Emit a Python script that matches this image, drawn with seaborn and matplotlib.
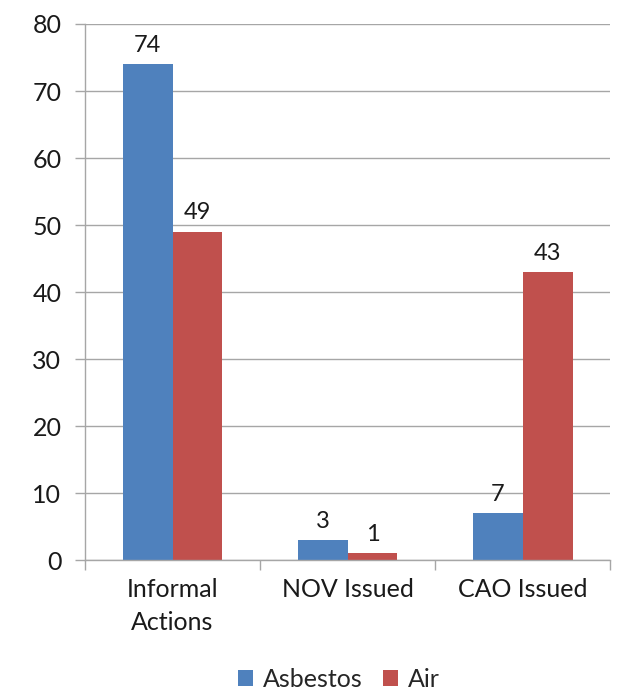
import matplotlib
matplotlib.use("Agg")
import matplotlib.pyplot as plt
import seaborn as sns
import pandas as pd
from matplotlib.patches import Patch

categories = ["Informal\nActions", "NOV Issued", "CAO Issued"]
series = ["Asbestos", "Air"]
asbestos = [74, 3, 7]
air = [49, 1, 43]
colors = ["#4F81BD", "#C0504D"]
y_ticks = [0, 10, 20, 30, 40, 50, 60, 70, 80]

df = pd.DataFrame({
    "category": categories * 2,
    "series": [series[0]] * 3 + [series[1]] * 3,
    "value": asbestos + air,
})

sns.set_theme(style="white")
plt.rcParams["font.family"] = ["Lato", "DejaVu Sans"]

fig = plt.figure(figsize=(6.22, 6.95), dpi=100)
ax = fig.add_axes([0.1367, 0.194, 0.8443, 0.7715])

sns.barplot(data=df, x="category", y="value", hue="series", order=categories,
            hue_order=series, palette=colors, width=0.57, gap=0,
            saturation=1, edgecolor="none", linewidth=0, ax=ax, legend=False)

for cont in ax.containers:
    ax.bar_label(cont, fmt="%d", padding=6, fontsize=17, color="#1a1a1a")

ax.set_xlim(-0.5, 2.5)
ax.set_ylim(0, 80)
ax.set_yticks(y_ticks)
ax.set_yticklabels([str(t) for t in y_ticks], fontsize=18, color="#1a1a1a")
ax.yaxis.grid(True, color="#A6A6A6", linewidth=1.0)
ax.set_axisbelow(True)
ax.set_xlabel("")
ax.set_ylabel("")

ax.set_xticks(range(len(categories)))
ax.set_xticklabels(categories, fontsize=18, color="#1a1a1a", linespacing=1.5)
ax.set_xticks([-0.5, 0.5, 1.5, 2.5], minor=True)
ax.tick_params(axis="x", which="major", length=0, pad=13)
ax.tick_params(axis="x", which="minor", length=7, width=1, color="#A6A6A6",
               bottom=True, direction="out")
ax.tick_params(axis="y", length=7, width=1, color="#A6A6A6", left=True,
               direction="out", pad=10)

for side in ["top", "right"]:
    ax.spines[side].set_visible(False)
for side in ["left", "bottom"]:
    ax.spines[side].set_color("#A6A6A6")
    ax.spines[side].set_linewidth(1.0)

handles = [Patch(facecolor=c, edgecolor="none", label=s) for s, c in zip(series, colors)]
fig.legend(handles=handles, loc="center", bbox_to_anchor=(0.545, 0.022), ncol=2,
           frameon=False, fontsize=18, handlelength=0.6, handleheight=0.6,
           handletextpad=0.4, columnspacing=0.8)

fig.savefig("out.png", dpi=100, facecolor="white")
